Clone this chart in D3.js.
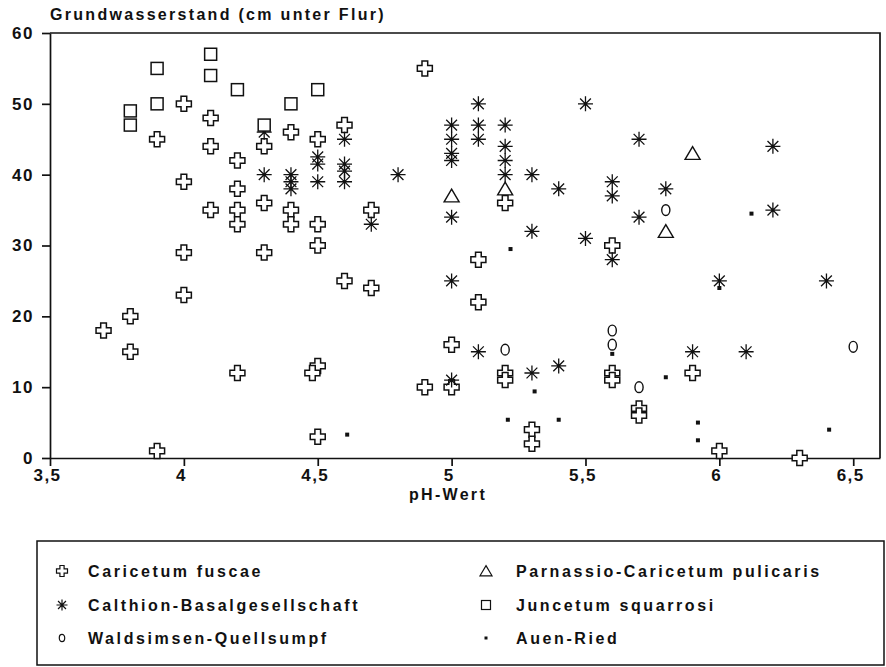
<!DOCTYPE html>
<html><head><meta charset="utf-8">
<script src="https://cdn.jsdelivr.net/npm/d3@7"></script>
<style>
body{margin:0;background:#fff;}
text{font-family:"Liberation Sans",Arial,sans-serif;font-weight:bold;fill:#111;}
</style></head>
<body>
<script>
// ---- data ----
const xTicks = [3.5, 4, 4.5, 5, 5.5, 6, 6.5];
const yTicks = [0, 10, 20, 30, 40, 50, 60];
const caricetumFuscae = [
 [3.7,18],[3.8,20],[3.8,15],[3.9,45],[3.9,1],
 [4.0,50],[4.0,39],[4.0,29],[4.0,23],
 [4.1,48],[4.1,44],[4.1,35],
 [4.2,42],[4.2,38],[4.2,35],[4.2,33],[4.2,12],
 [4.3,44],[4.3,36],[4.3,29],
 [4.4,46],[4.4,35],[4.4,33],
 [4.5,45],[4.5,33],[4.5,30],[4.5,13],[4.48,12],[4.5,3],
 [4.6,47],[4.6,25],[4.7,35],[4.7,24],
 [4.9,55],[4.9,10],[5.0,16],[5.0,10],
 [5.1,28],[5.1,22],[5.2,36],[5.2,12],[5.2,11],
 [5.3,4],[5.3,2],[5.6,30],[5.6,12],[5.6,11],
 [5.7,7],[5.7,6],[5.9,12],[6.0,1],[6.3,0]
];
const calthion = [
 [4.3,46],[4.3,40],[4.4,40],[4.4,39],[4.4,38],
 [4.5,42.5],[4.5,41.5],[4.5,39],
 [4.6,45],[4.6,41.5],[4.6,40.5],[4.6,39],
 [4.7,33],[4.8,40],
 [5.0,47],[5.0,45],[5.0,43],[5.0,42],[5.0,34],[5.0,25],[5.0,11],
 [5.1,50],[5.1,47],[5.1,45],[5.1,15],
 [5.2,47],[5.2,44],[5.2,42],[5.2,40],
 [5.3,40],[5.3,32],[5.3,12],[5.4,38],[5.4,13],
 [5.5,50],[5.5,31],[5.6,39],[5.6,37],[5.6,28],
 [5.7,45],[5.7,34],[5.8,38],[5.9,15],[6.0,25],[6.1,15],
 [6.2,44],[6.2,35],[6.4,25]
];
const waldsimsen = [[5.2,15.3],[5.6,18],[5.6,16],[5.7,10],[5.8,35],[6.5,15.7]];
const parnassio = [[5.0,37],[5.2,38],[5.8,32],[5.9,43]];
const juncetum = [[3.8,49],[3.8,47],[3.9,55],[3.9,50],[4.1,57],[4.1,54],[4.2,52],[4.3,47],[4.4,50],[4.5,52]];
const auenRied = [[4.61,3.3],[5.21,5.4],[5.22,29.5],[5.31,9.4],[5.4,5.4],[5.6,14.7],[5.8,11.4],[5.92,5.0],[5.92,2.5],[6.0,24],[6.12,34.5],[6.41,4.0]];
const seriesNames = ["Caricetum fuscae","Calthion-Basalgesellschaft","Waldsimsen-Quellsumpf","Parnassio-Caricetum pulicaris","Juncetum squarrosi","Auen-Ried"];

// ---- layout ----
const W = 886, H = 667;
const svg = d3.select("body").append("svg").attr("width", W).attr("height", H);
const x = d3.scaleLinear().domain([3.5, 6.6]).range([50, 880]);
const y = d3.scaleLinear().domain([0, 60]).range([458, 33]);
const ink = "#111";

// ---- symbol drawers ----
function cross(g, s, sw){ // hollow greek cross
  const a = s/2, w = s*0.19;
  g.append("path").attr("d",
   `M${-w},${-a}H${w}V${-w}H${a}V${w}H${w}V${a}H${-w}V${w}H${-a}V${-w}H${-w}Z`)
   .attr("fill","#fff").attr("stroke",ink).attr("stroke-width",sw||1.5);
}
function aster(g, s, sw){
  const a = s/2, d = a*0.72;
  g.append("path").attr("d",`M0,${-a}V${a}M${-a},0H${a}M${-d},${-d}L${d},${d}M${-d},${d}L${d},${-d}`)
   .attr("stroke",ink).attr("stroke-width",sw||1.3).attr("fill","none");
}
function ring(g, s, sw){
  g.append("ellipse").attr("rx",s*0.34).attr("ry",s*0.45)
   .attr("fill","none").attr("stroke",ink).attr("stroke-width",sw||1.4);
}
function tri(g, s, sw){
  const a = s/2;
  g.append("path").attr("d",`M0,${-a*0.9}L${a},${a*0.8}L${-a},${a*0.8}Z`)
   .attr("fill","#fff").attr("stroke",ink).attr("stroke-width",sw||1.4);
}
function sq(g, s, sw){
  const a = s/2;
  g.append("rect").attr("x",-a).attr("y",-a).attr("width",s).attr("height",s)
   .attr("fill","#fff").attr("stroke",ink).attr("stroke-width",sw||1.5);
}
function dot(g, s){
  g.append("rect").attr("x",-s/2).attr("y",-s/2).attr("width",s).attr("height",s).attr("fill",ink);
}

const series = [
 {data: caricetumFuscae, fn: cross, size: 15, lsize: 11},
 {data: calthion, fn: aster, size: 15, lsize: 11},
 {data: waldsimsen, fn: ring, size: 12, lsize: 8},
 {data: parnassio, fn: tri, size: 15, lsize: 12},
 {data: juncetum, fn: sq, size: 12, lsize: 9},
 {data: auenRied, fn: dot, size: 4, lsize: 3}
];

// ---- axes ----
const fmt = d => String(d).replace(".", ",");
const gy = svg.append("g").attr("transform","translate(50,0)")
  .call(d3.axisLeft(y).tickValues(yTicks).tickSize(8).tickSizeOuter(0).tickPadding(8));
const gx = svg.append("g").attr("transform","translate(0,458)")
  .call(d3.axisBottom(x).tickValues(xTicks).tickSize(8).tickSizeOuter(0).tickPadding(3).tickFormat(fmt));
[gx, gy].forEach(g => {
  g.selectAll("path, line").attr("stroke", ink).attr("stroke-width", 1.7);
  g.selectAll("text").attr("fill", ink).style("font-size","17px").style("font-weight","bold")
   .style("font-family",'"Liberation Sans",Arial,sans-serif').attr("letter-spacing","1.5");
});
gx.selectAll("text").attr("dx", "-3");
// frame (top + right)
svg.append("path").attr("d",`M${x(3.5)},${y(60)}H${x(6.6)}V${y(0)}`)
  .attr("fill","none").attr("stroke",ink).attr("stroke-width",1.7);

// titles
svg.append("text").attr("x",50).attr("y",20).style("font-size","16px").attr("letter-spacing","2.3")
  .text("Grundwasserstand (cm unter Flur)");
svg.append("text").attr("x",448).attr("y",500).attr("text-anchor","middle").style("font-size","16px")
  .attr("letter-spacing","2.3").text("pH-Wert");

// ---- points ----
const plot = svg.append("g");
series.forEach(s => {
  plot.append("g").selectAll("g").data(s.data).join("g")
    .attr("transform", d => `translate(${x(d[0])},${y(d[1])})`)
    .each(function(){ s.fn(d3.select(this), s.size); });
});

// ---- legend ----
svg.append("rect").attr("x",37).attr("y",541).attr("width",847).attr("height",124)
  .attr("fill","none").attr("stroke",ink).attr("stroke-width",1.5);
const rows = [571, 605, 638];
series.forEach((s, i) => {
  const col = i < 3 ? 0 : 1, row = i % 3;
  const sx = col === 0 ? 62 : 486, tx = col === 0 ? 88 : 516;
  const g = svg.append("g").attr("transform",`translate(${sx},${rows[row]})`);
  s.fn(g, s.lsize, 1.2);
  svg.append("text").attr("x",tx).attr("y",rows[row]+6).style("font-size","16px")
    .attr("letter-spacing","2.6").text(seriesNames[i]);
});
</script>
</body></html>
